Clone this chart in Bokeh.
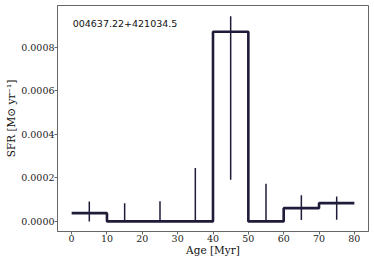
from bokeh.plotting import figure
from bokeh.models import Range1d, FixedTicker, NumeralTickFormatter, Label
from bokeh.embed import file_html
from bokeh.resources import INLINE

# Data
bin_edges = [0, 10, 20, 30, 40, 50, 60, 70, 80]
sfr = [0.000038, 0.0, 0.0, 0.0, 0.000872, 0.0, 0.000061, 0.000084]
bin_centers = [5, 15, 25, 35, 45, 55, 65, 75]
err_low = [0.0, 0.0, 0.0, 0.0, 0.000192, 0.0, 0.000006, 0.000008]
err_high = [0.000092, 0.000084, 0.000093, 0.000245, 0.000944, 0.000173, 0.000120, 0.000115]
x_ticks = [0, 10, 20, 30, 40, 50, 60, 70, 80]
y_ticks = [0.0, 0.0002, 0.0004, 0.0006, 0.0008]
title_text = "004637.22+421034.5"
x_label = "Age [Myr]"
y_label = "SFR [M\u2299 yr\u207b\u00b9]"

color = "#1f1c3a"
frame_col = "#666666"

p = figure(width=374, height=262, output_backend="svg", toolbar_location=None,
           x_range=Range1d(-4, 84), y_range=Range1d(-0.0000465, 0.000993))
p.min_border_left = 57
p.min_border_right = 6
p.min_border_top = 5
p.min_border_bottom = 31

step_y = sfr + [sfr[-1]]
p.step(bin_edges, step_y, mode="after", line_color=color, line_width=2.6)
p.segment(x0=bin_centers, y0=err_low, x1=bin_centers, y1=err_high,
          line_color=color, line_width=1.5)

p.add_layout(Label(x=0.3, y=0.000912, text=title_text, text_font="DejaVu Sans",
                   text_font_size="9.5px", text_baseline="middle", text_color="#111111"))

p.xgrid.visible = False
p.ygrid.visible = False
p.outline_line_color = frame_col
p.outline_line_width = 1

for ax in (p.xaxis[0], p.yaxis[0]):
    ax.axis_line_color = frame_col
    ax.major_tick_line_color = frame_col
    ax.minor_tick_line_color = None
    ax.major_tick_out = 3
    ax.major_tick_in = 0
    ax.major_label_text_font = "DejaVu Serif"
    ax.major_label_text_font_size = "9.5px"
    ax.major_label_text_color = "#222222"
    ax.axis_label_text_font = "DejaVu Serif"
    ax.axis_label_text_font_size = "10.5px"
    ax.axis_label_text_font_style = "normal"
    ax.axis_label_text_color = "#111111"

p.xaxis[0].major_label_standoff = 0
p.xaxis[0].axis_label_standoff = -1
p.yaxis[0].major_label_standoff = 0
p.yaxis[0].axis_label_standoff = 1

p.xaxis[0].ticker = FixedTicker(ticks=x_ticks)
p.yaxis[0].ticker = FixedTicker(ticks=y_ticks)
p.yaxis[0].formatter = NumeralTickFormatter(format="0.0000")
p.xaxis[0].axis_label = x_label
p.yaxis[0].axis_label = y_label

open("out.html", "w").write(file_html(p, INLINE))
